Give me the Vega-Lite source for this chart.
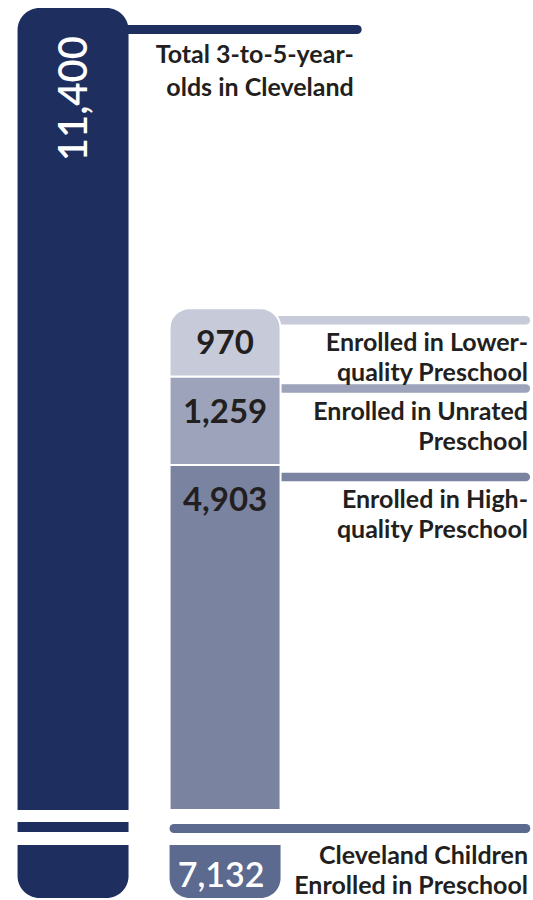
{
  "$schema": "https://vega.github.io/schema/vega-lite/v6.json",
  "width": 533,
  "height": 900,
  "autosize": {"type": "fit", "contains": "padding"},
  "padding": 0,
  "config": {"view": {"stroke": null}, "text": {"font": "Lato"}},
  "datasets": {
    "total": [{"group": "Total", "value": 11400, "label": ["Total 3-to-5-year-", "olds in Cleveland"]}],
    "enrolled": [
      {"group": "Enrolled", "category": "High-quality", "order": 1, "value": 4903, "label": ["Enrolled in High-", "quality Preschool"]},
      {"group": "Enrolled", "category": "Unrated", "order": 2, "value": 1259, "label": ["Enrolled in Unrated\u00a0\u00a0", "Preschool"]},
      {"group": "Enrolled", "category": "Lower-quality", "order": 3, "value": 970, "label": ["Enrolled in Lower-", "quality Preschool"]}
    ],
    "enrolledTotal": [{"group": "Enrolled", "value": 7132, "label": ["Cleveland Children", "Enrolled in Preschool"]}]
  },
  "layer": [
    {
      "data": {"name": "total"},
      "mark": {"type": "rule", "strokeWidth": 9, "strokeCap": "round", "color": "#1e2e5e", "yOffset": 21.5},
      "encoding": {
        "x": {"field": "group", "type": "nominal", "bandPosition": 0.5, "axis": null,
              "scale": {"type": "band", "domain": ["Total", "Enrolled"], "paddingInner": 0.27, "paddingOuter": 0.888, "align": 0.065}},
        "x2": {"field": "group", "bandPosition": 3.06},
        "y": {"field": "value", "type": "quantitative", "axis": null,
              "scale": {"domain": [-1279, 11514], "nice": false, "zero": false}}
      }
    },
    {
      "data": {"name": "enrolled"},
      "transform": [{"stack": "value", "groupby": ["group"], "sort": [{"field": "order", "order": "ascending"}], "as": ["y0", "y1"]}],
      "mark": {"type": "rule", "strokeWidth": 8.5, "strokeCap": "round", "yOffset": 12},
      "encoding": {
        "x": {"field": "group", "type": "nominal", "bandPosition": 0.5},
        "x2": {"field": "group", "bandPosition": 3.21},
        "y": {"field": "y1", "type": "quantitative"},
        "color": {"field": "category", "type": "nominal", "legend": null,
                  "scale": {"domain": ["High-quality", "Unrated", "Lower-quality"], "range": ["#7a83a0", "#9ca3ba", "#c6cad9"]}}
      }
    },
    {
      "data": {"name": "enrolledTotal"},
      "mark": {"type": "rule", "strokeWidth": 9, "strokeCap": "round", "color": "#5d6a8f"},
      "encoding": {
        "x": {"field": "group", "type": "nominal", "bandPosition": 0.04},
        "x2": {"field": "group", "bandPosition": 3.21},
        "y": {"datum": -263}
      }
    },
    {
      "data": {"name": "total"},
      "mark": {"type": "bar", "color": "#1e2e5e", "cornerRadiusTopLeft": 22, "cornerRadiusTopRight": 22},
      "encoding": {
        "x": {"field": "group", "type": "nominal"},
        "y": {"field": "value", "type": "quantitative"},
        "y2": {"datum": 0}
      }
    },
    {
      "data": {"name": "total"},
      "mark": {"type": "bar", "color": "#1e2e5e"},
      "encoding": {
        "x": {"field": "group", "type": "nominal"},
        "y": {"datum": -170},
        "y2": {"datum": -313}
      }
    },
    {
      "data": {"name": "total"},
      "mark": {"type": "bar", "color": "#1e2e5e", "cornerRadiusBottomLeft": 22, "cornerRadiusBottomRight": 22},
      "encoding": {
        "x": {"field": "group", "type": "nominal"},
        "y": {"datum": -497},
        "y2": {"datum": -1251}
      }
    },
    {
      "data": {"name": "enrolled"},
      "transform": [
        {"stack": "value", "groupby": ["group"], "sort": [{"field": "order", "order": "ascending"}], "as": ["y0", "y1"]},
        {"filter": "datum.category !== 'Lower-quality'"}
      ],
      "mark": {"type": "bar", "stroke": "white", "strokeWidth": 2},
      "encoding": {
        "x": {"field": "group", "type": "nominal"},
        "y": {"field": "y1", "type": "quantitative"},
        "y2": {"field": "y0"},
        "color": {"field": "category", "type": "nominal", "legend": null}
      }
    },
    {
      "data": {"name": "enrolled"},
      "transform": [
        {"stack": "value", "groupby": ["group"], "sort": [{"field": "order", "order": "ascending"}], "as": ["y0", "y1"]},
        {"filter": "datum.category === 'Lower-quality'"}
      ],
      "mark": {"type": "bar", "stroke": "white", "strokeWidth": 2, "cornerRadiusTopLeft": 20, "cornerRadiusTopRight": 20},
      "encoding": {
        "x": {"field": "group", "type": "nominal"},
        "y": {"field": "y1", "type": "quantitative"},
        "y2": {"field": "y0"},
        "color": {"field": "category", "type": "nominal", "legend": null}
      }
    },
    {
      "data": {"name": "enrolledTotal"},
      "mark": {"type": "bar", "color": "#5d6a8f", "cornerRadiusBottomLeft": 20, "cornerRadiusBottomRight": 20},
      "encoding": {
        "x": {"field": "group", "type": "nominal"},
        "y": {"datum": -497},
        "y2": {"datum": -1251}
      }
    },
    {
      "data": {"name": "total"},
      "mark": {"type": "text", "angle": 270, "align": "right", "baseline": "alphabetic", "fontSize": 40, "fontWeight": 600, "color": "white", "xOffset": 14, "yOffset": 28},
      "encoding": {
        "x": {"field": "group", "type": "nominal", "bandPosition": 0.5},
        "y": {"field": "value", "type": "quantitative"},
        "text": {"field": "value", "type": "quantitative", "format": ","}
      }
    },
    {
      "data": {"name": "total"},
      "mark": {"type": "text", "align": "right", "baseline": "alphabetic", "fontSize": 25, "fontWeight": "bold", "lineHeight": 33, "color": "#231f20", "yOffset": 55},
      "encoding": {
        "x": {"field": "group", "type": "nominal", "bandPosition": 3.03},
        "y": {"field": "value", "type": "quantitative"},
        "text": {"field": "label"}
      }
    },
    {
      "data": {"name": "enrolled"},
      "transform": [{"stack": "value", "groupby": ["group"], "sort": [{"field": "order", "order": "ascending"}], "as": ["y0", "y1"]}],
      "mark": {"type": "text", "align": "center", "baseline": "alphabetic", "fontSize": 33, "fontWeight": "bold", "color": "#231f20", "yOffset": 46},
      "encoding": {
        "x": {"field": "group", "type": "nominal", "bandPosition": 0.5},
        "y": {"field": "y1", "type": "quantitative"},
        "text": {"field": "value", "type": "quantitative", "format": ","}
      }
    },
    {
      "data": {"name": "enrolled"},
      "transform": [{"stack": "value", "groupby": ["group"], "sort": [{"field": "order", "order": "ascending"}], "as": ["y0", "y1"]}],
      "mark": {"type": "text", "align": "right", "baseline": "alphabetic", "fontSize": 25, "fontWeight": "bold", "lineHeight": 30, "color": "#231f20", "yOffset": 43},
      "encoding": {
        "x": {"field": "group", "type": "nominal", "bandPosition": 3.23},
        "y": {"field": "y1", "type": "quantitative"},
        "text": {"field": "label"}
      }
    },
    {
      "data": {"name": "enrolledTotal"},
      "mark": {"type": "text", "align": "center", "baseline": "alphabetic", "fontSize": 34, "fontWeight": 600, "color": "white", "xOffset": -4, "yOffset": 42},
      "encoding": {
        "x": {"field": "group", "type": "nominal", "bandPosition": 0.5},
        "y": {"datum": -497},
        "text": {"field": "value", "type": "quantitative", "format": ","}
      }
    },
    {
      "data": {"name": "enrolledTotal"},
      "mark": {"type": "text", "align": "right", "baseline": "alphabetic", "fontSize": 25, "fontWeight": "bold", "lineHeight": 30, "color": "#231f20", "yOffset": 19},
      "encoding": {
        "x": {"field": "group", "type": "nominal", "bandPosition": 3.23},
        "y": {"datum": -497},
        "text": {"field": "label"}
      }
    }
  ]
}
